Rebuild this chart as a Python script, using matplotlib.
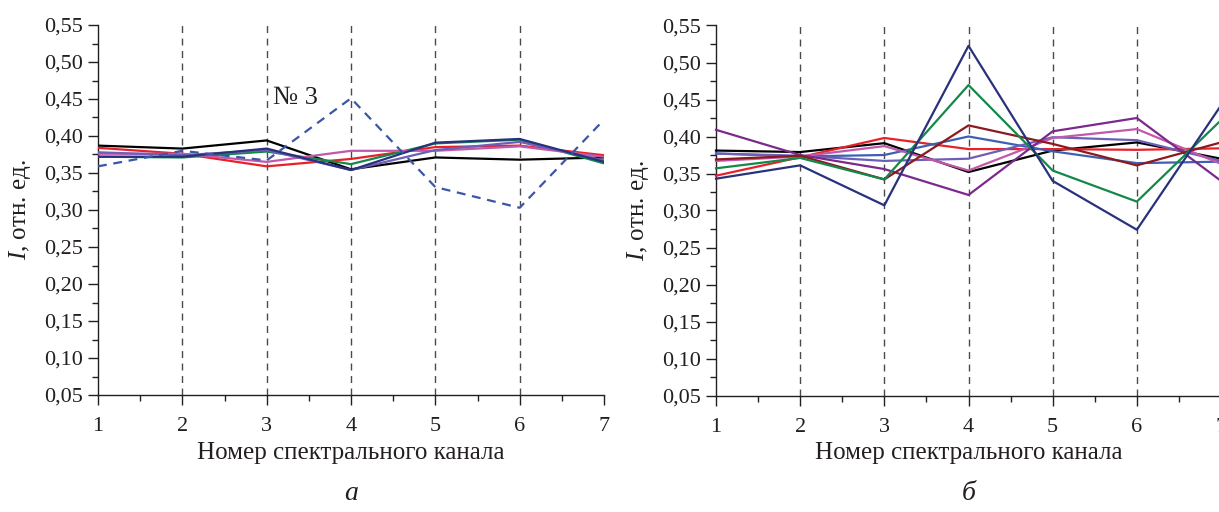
import matplotlib
matplotlib.use("Agg")
import matplotlib.pyplot as plt
from matplotlib.ticker import MultipleLocator, FuncFormatter

plt.rcParams['font.family'] = ['Liberation Serif', 'DejaVu Serif']
plt.rcParams['mathtext.fontset'] = 'custom'
plt.rcParams['mathtext.it'] = 'Liberation Serif:italic'
plt.rcParams['mathtext.rm'] = 'Liberation Serif'

TEXT_COLOR = "#231f20"

channels = [1, 2, 3, 4, 5, 6, 7]

# panel a
a_black = [0.387, 0.383, 0.394, 0.355, 0.371, 0.368, 0.371]
a_red = [0.384, 0.376, 0.359, 0.369, 0.385, 0.387, 0.374]
a_green = [0.372, 0.371, 0.379, 0.362, 0.390, 0.395, 0.363]
a_navy = [0.372, 0.372, 0.383, 0.354, 0.391, 0.396, 0.365]
a_slate = [0.378, 0.374, 0.381, 0.354, 0.381, 0.392, 0.367]
a_orchid = [0.376, 0.376, 0.365, 0.380, 0.380, 0.386, 0.372]
a_no3 = [0.359, 0.380, 0.367, 0.451, 0.331, 0.303, 0.422]

# panel b
b_black = [0.381, 0.379, 0.391, 0.352, 0.381, 0.392, 0.370]
b_red = [0.347, 0.372, 0.398, 0.383, 0.383, 0.382, 0.384]
b_green = [0.357, 0.371, 0.342, 0.4695, 0.354, 0.312, 0.422]
b_navy = [0.343, 0.361, 0.307, 0.5225, 0.340, 0.274, 0.442]
b_darkred = [0.369, 0.374, 0.342, 0.415, 0.390, 0.361, 0.392]
b_blue = [0.377, 0.373, 0.375, 0.400, 0.380, 0.364, 0.366]
b_slate = [0.377, 0.374, 0.367, 0.370, 0.399, 0.395, 0.367]
b_orchid = [0.367, 0.373, 0.387, 0.354, 0.398, 0.410, 0.363]
b_purple = [0.409, 0.375, 0.356, 0.321, 0.407, 0.425, 0.340]

COLORS = {
    "black": "#000000",
    "red": "#e8202a",
    "green": "#14884a",
    "navy": "#29317c",
    "slate": "#6c5fb8",
    "orchid": "#c258aa",
    "purple": "#7b2a8c",
    "darkred": "#8b1a1e",
    "blue": "#3f60b2",
}

fig = plt.figure(figsize=(12.19, 5.12), dpi=100)
ax_a = fig.add_axes([98 / 1219, 1 - 395 / 512, 506 / 1219, 370 / 512])
ax_b = fig.add_axes([716 / 1219, 1 - 395.5 / 512, 505 / 1219, 370 / 512])


def style_axes(ax):
    ax.set_xlim(1, 7)
    ax.set_ylim(0.05, 0.55)
    for s in ["top", "right"]:
        ax.spines[s].set_visible(False)
    for s in ["left", "bottom"]:
        ax.spines[s].set_linewidth(1.0)
        ax.spines[s].set_color(TEXT_COLOR)
    ax.xaxis.set_major_locator(MultipleLocator(1))
    ax.xaxis.set_minor_locator(MultipleLocator(0.5))
    ax.yaxis.set_major_locator(MultipleLocator(0.05))
    ax.yaxis.set_minor_locator(MultipleLocator(0.025))
    ax.yaxis.set_major_formatter(FuncFormatter(lambda v, p: f"{v:.2f}".replace(".", ",")))
    ax.tick_params(which="major", direction="out", length=7, width=1.0,
                   labelsize=16, colors=TEXT_COLOR, pad=4)
    ax.tick_params(axis="x", which="major", pad=9)
    ax.tick_params(which="minor", direction="out", length=4, width=1.0, colors=TEXT_COLOR)
    for x in range(2, 7):
        ax.axvline(x, color="#4a4a4a", lw=1.0, ls=(0, (5, 4)), zorder=1)
    ax.set_xlabel("Номер спектрального канала", fontsize=18, color=TEXT_COLOR, labelpad=4)
    ax.set_ylabel("$I$, отн. ед.", fontsize=18, color=TEXT_COLOR, labelpad=8)


style_axes(ax_a)
style_axes(ax_b)

lw = 1.6
for ys, c in [(a_black, "black"), (a_red, "red"), (a_green, "green"),
              (a_orchid, "orchid"), (a_slate, "slate"), (a_navy, "navy")]:
    ax_a.plot(channels, ys, color=COLORS[c], lw=lw, zorder=3)
ax_a.plot(channels, a_no3, color="#3a56a8", lw=1.6, ls=(0, (4, 3)), zorder=3)
ax_a.text(3.07, 0.451, "№ 3", fontsize=19, color=TEXT_COLOR, ha="left", va="center")

for ys, c in [(b_black, "black"), (b_red, "red"), (b_blue, "blue"),
              (b_slate, "slate"), (b_orchid, "orchid"), (b_purple, "purple"),
              (b_darkred, "darkred"), (b_green, "green"), (b_navy, "navy")]:
    ax_b.plot(channels, ys, color=COLORS[c], lw=lw, zorder=3, clip_on=False)

fig.text(351 / 1219, 1 - 493 / 512, "а", fontsize=20, style="italic",
         color=TEXT_COLOR, ha="center", va="center")
fig.text(969 / 1219, 1 - 493 / 512, "б", fontsize=20, style="italic",
         color=TEXT_COLOR, ha="center", va="center")

fig.savefig("out.png", dpi=100)
